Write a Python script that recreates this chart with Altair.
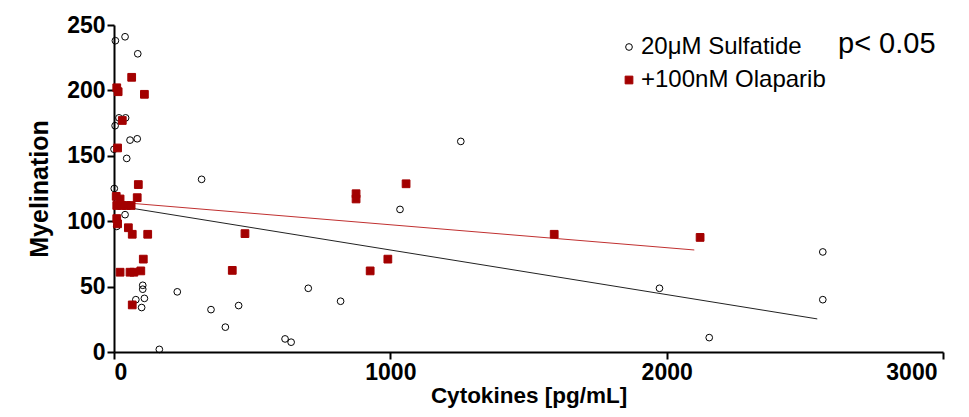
import altair as alt
import pandas as pd

groups = ["20\u03bcM Sulfatide", "+100nM Olaparib"]

sulf_x = [5, 40, 86, 18, 42, 4, 58, 84, 0, 46, 1, 40, 10, 104, 104, 110, 79, 100, 164, 229,
          317, 351, 451, 403, 619, 641, 703, 820, 1035, 1255, 1974, 2154, 2565, 2565]
sulf_y = [238, 241, 228, 179, 179, 173, 162, 163, 155, 148, 125, 105, 96, 51, 48, 41, 40, 34, 2, 46,
          132, 32.4, 35.5, 19, 10, 7.5, 48.7, 38.8, 109, 161, 48.7, 11, 76.5, 40]

olap_x = [64, 10, 15, 110, 30, 13, 88, 8, 22, 84, 10, 28, 45, 62, 10, 13, 52, 66, 122, 106,
          22, 58, 72, 97, 66, 474, 428, 876, 876, 1057, 927, 991, 1593, 2121]
olap_y = [210, 202, 199, 197, 177, 156, 128, 119, 117, 118, 112, 112, 112, 112, 102, 98, 95, 90, 90, 71,
          61, 61, 61, 62, 36, 90.5, 62.4, 121, 117, 128.6, 62, 71, 90, 87.6]

fit_sulf_x = [0, 2545]
fit_sulf_y = [112.1, 25.3]
fit_olap_x = [0, 2100]
fit_olap_y = [114.8, 78.0]

x_ticks = [0, 1000, 2000, 3000]
y_ticks = [0, 50, 100, 150, 200, 250]
p_text = ["p< 0.05"]

RED = "#a30000"
FONT = "Liberation Sans"

pts = pd.DataFrame({
    "x": sulf_x + olap_x,
    "y": sulf_y + olap_y,
    "group": [groups[0]] * len(sulf_x) + [groups[1]] * len(olap_x),
})
fit_s = pd.DataFrame({"x": fit_sulf_x, "y": fit_sulf_y})
fit_o = pd.DataFrame({"x": fit_olap_x, "y": fit_olap_y})

xs = alt.Scale(domain=[0, 3000], nice=False)
ys = alt.Scale(domain=[0, 250], nice=False)

leg = alt.Legend(orient="none", legendX=503, legendY=10, title=None,
                 labelFont=FONT, labelFontSize=24, labelColor="black",
                 rowPadding=9, padding=0, labelOffset=0, labelLimit=400,
                 symbolStrokeWidth=1)

X = alt.X("x:Q", scale=xs, axis=alt.Axis(
    values=x_ticks, title="Cytokines [pg/mL]", format="d", titlePadding=0,
    titleFontSize=22.5,
    labelOffset=alt.ExprRef("datum.value == 3000 ? -6 : 0")))
Y = alt.Y("y:Q", scale=ys, axis=alt.Axis(values=y_ticks, title="Myelination", titlePadding=14,
                                         titleFontSize=25))

line_s = alt.Chart(fit_s).mark_line(color="#222222", strokeWidth=1).encode(x=X, y=Y)
line_o = alt.Chart(fit_o).mark_line(color="#c03030", strokeWidth=1).encode(x=X, y=Y)

points = alt.Chart(pts).mark_point(strokeWidth=1, opacity=1).encode(
    x=X,
    y=Y,
    shape=alt.Shape("group:N", scale=alt.Scale(domain=groups, range=["circle", "square"]), legend=leg),
    stroke=alt.Stroke("group:N", scale=alt.Scale(domain=groups, range=["black", RED]), legend=leg),
    fill=alt.Fill("group:N", scale=alt.Scale(domain=groups, range=["transparent", RED]), legend=leg),
    size=alt.Size("group:N", scale=alt.Scale(domain=groups, range=[45, 60]), legend=leg),
)

ptext = alt.Chart(pd.DataFrame({"t": p_text})).mark_text(
    align="left", baseline="alphabetic", font=FONT, fontSize=29, color="black"
).encode(x=alt.value(724), y=alt.value(28), text="t:N")

chart = alt.layer(line_s, line_o, points, ptext).properties(
    width=829, height=327,
    autosize=alt.AutoSizeParams(type="none"),
    padding={"left": 106, "top": 17, "right": 18, "bottom": 57},
).configure_view(stroke=None).configure_axis(
    grid=False, domainColor="black", domainWidth=2, tickColor="black", tickWidth=2, tickSize=7,
    labelFont=FONT, labelFontWeight="bold", labelFontSize=23, labelColor="black", labelPadding=2,
    titleFont=FONT, titleFontWeight="bold", titleFontSize=23, titleColor="black",
)

chart.save("out.html", embed_options={"renderer": "svg", "actions": False})
